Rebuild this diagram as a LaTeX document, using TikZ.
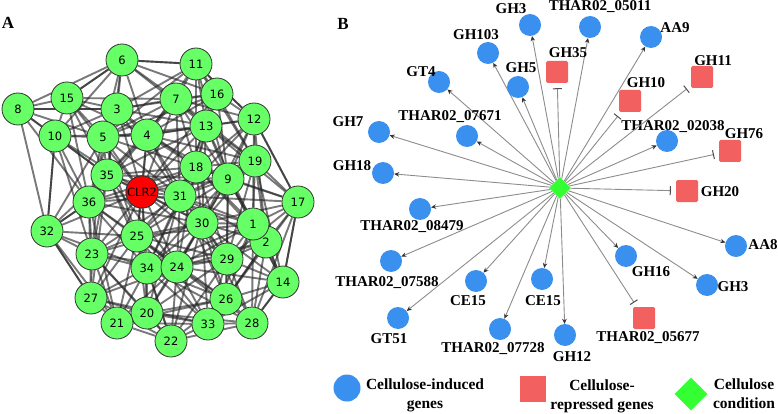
\documentclass[tikz,border=0pt]{standalone}
\usepackage{fontspec}
\setmainfont{Liberation Serif}
\newfontfamily\numfont{DejaVu Sans}
\usetikzlibrary{arrows.meta,shapes.geometric,backgrounds}
\definecolor{agreen}{HTML}{66FF66}
\definecolor{aborder}{HTML}{333333}
\definecolor{ared}{HTML}{FF0000}
\definecolor{bblue}{HTML}{3A90EE}
\definecolor{bred}{HTML}{F26060}
\definecolor{bgreen}{HTML}{33FF33}
\definecolor{bline}{HTML}{8C8C8C}
\def\alist{2/266/242,6/122/60,11/196/64,15/67/98,8/18/109,7/176/99,16/217/94,3/117/109,12/254/119,10/55/136,5/103/137,4/147/135,13/206/126,19/255/161,18/196/167,9/228/179,35/107/175,CLR2/142/192,31/180/196,36/89/202,17/298/202,32/47/231,30/202/223,1/253/224,25/137/236,23/92/254,34/147/268,24/177/267,29/227/259,14/283/282,27/91/298,26/226/299,20/147/313,21/117/323,33/208/324,28/252/323,22/171/341}
\begin{document}
\begin{tikzpicture}[x=1pt,y=-1pt,
  anode/.style={circle,draw=aborder,line width=0.8pt,fill=agreen,minimum size=32pt,inner sep=0pt,font=\numfont\fontsize{11.5}{13}\selectfont},
  aedge/.style={draw=black!85,opacity=0.62,line width=1.9pt},
  ind/.style={circle,fill=bblue,minimum size=22pt,inner sep=0pt},
  rep/.style={rectangle,fill=bred,minimum size=22pt,inner sep=0pt,rounded corners=1.5pt},
  hub/.style={diamond,fill=bgreen,minimum size=22pt,inner sep=0pt},
  lbl/.style={font=\bfseries\fontsize{15}{17}\selectfont,inner sep=0pt},
  leg/.style={font=\bfseries\fontsize{15.5}{19}\selectfont,inner sep=0pt,align=center},
  panel/.style={font=\bfseries\fontsize{17}{19}\selectfont,inner sep=0pt},
  act/.style={draw=bline,line width=0.9pt,-{Stealth[length=5pt,width=4.5pt,color=black!80]}},
  inh/.style={draw=bline,line width=0.9pt,-{Bar[width=9pt,line width=1pt,color=black!70]},shorten >=5pt},
]
\useasboundingbox (0,0) rectangle (778,414);
\node[panel] (pA) at (8,23) {A};
\node[panel] (pB) at (343,24) {B};
% ---------------- panel A
\foreach \n/\x/\y in \alist {
  \node[anode] (a\n) at (\x,\y) {\n};
}
\node[anode,fill=ared] at (aCLR2) {CLR2};
\begin{scope}[on background layer]
\foreach \p/\px/\py [count=\i] in \alist {
  \foreach \q/\qx/\qy [count=\j] in \alist {
    \ifnum\j>\i
      \pgfmathsetmacro\dd{veclen(\px-\qx,\py-\qy)}
      \ifdim\dd pt<125pt \draw[aedge] (a\p) -- (a\q); \fi
    \fi
  }
}
\foreach \p/\q in {8/32,10/32,12/17,17/14,14/28,32/27,32/36,6/15,6/11,8/3,11/12,17/28,2/14}
  \draw[aedge] (a\p) -- (a\q);
\end{scope}
% ---------------- panel B
\node[hub] (hub) at (560,188) {};
\begin{scope}[on background layer]
\foreach \n/\x/\y/\lx/\ly/\tx in {
  b1/530/25/511/9/GH3, b2/488/53/476/35/GH103, b3/518/87/521/68/GH5,
  b4/439/82/421/72/GT4, b5/467/136/450/117/THAR02\_07671, b6/379/132/348/122/GH7,
  b7/383/173/352/166/GH18, b8/590/27/600/7/THAR02\_05011, b9/651/37/675/28/AA9,
  b10/667/141/673/127/THAR02\_02038, b11/420/209/412/227/THAR02\_08479,
  b12/391/261/387/283/THAR02\_07588, b13/476/281/468/301/CE15, b14/542/279/543/301/CE15,
  b15/398/318/389/339/GT51, b16/500/329/493/349/THAR02\_07728, b17/626/256/651/272/GH16,
  b18/736/246/763/245/AA8, b19/707/285/733/287/GH3, b20/565/335/572/357/GH12} {
  \node[ind] (\n) at (\x,\y) {};
  \node[lbl] (l\n) at (\lx,\ly) {\tx};
  \draw[act] (hub) -- (\n);
}
\foreach \n/\x/\y/\lx/\ly/\tx in {
  r1/557/72/568/53/GH35, r2/630/101/646/83/GH10, r3/702/77/713/61/GH11,
  r4/730/151/744/134/GH76, r5/687/191/720/192/GH20, r6/644/318/648/338/THAR02\_05677} {
  \node[rep] (\n) at (\x,\y) {};
  \node[lbl] (l\n) at (\lx,\ly) {\tx};
  \draw[inh] (hub) -- (\n);
}
\end{scope}
% ---------------- legend
\node[ind,minimum size=27pt] (k1) at (347,388) {};
\node[leg] (t1) at (425,395) {Cellulose-induced\\genes};
\node[rep,minimum size=26pt,rounded corners=0pt] (k2) at (533,389) {};
\node[leg] (t2) at (602,396) {Cellulose-\\repressed genes};
\node[hub,minimum size=33pt] (k3) at (691,394) {};
\node[leg] (t3) at (744,394) {Cellulose\\condition};
\end{tikzpicture}
\end{document}
